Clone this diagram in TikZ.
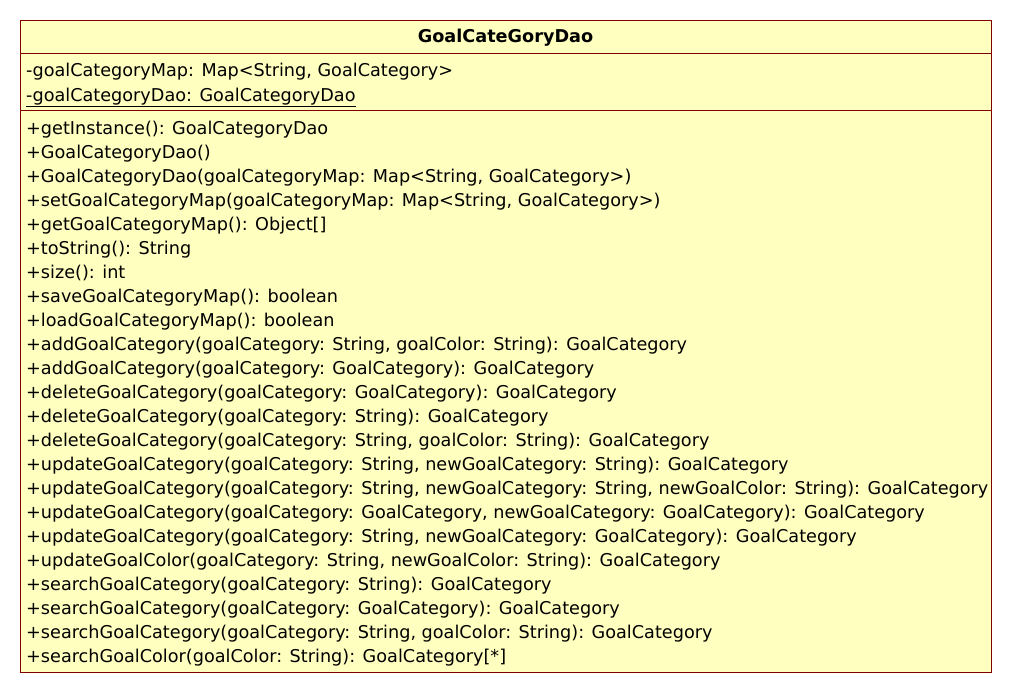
\documentclass[tikz,border=0pt]{standalone}
\usepackage{fontspec}
\setmainfont{DejaVu Sans}
\definecolor{classfill}{RGB}{255,255,192}
\definecolor{classline}{RGB}{128,0,0}
\tikzset{
    member/.style={anchor=base west, inner sep=0pt, font=\fontsize{17.65}{20}\selectfont},
    classname/.style={anchor=base, inner sep=0pt, font=\fontsize{17.65}{20}\selectfont\bfseries}
}
\begin{document}
\begin{tikzpicture}[x=1pt,y=-1pt]
        \useasboundingbox (0,0) rectangle (1012,693);
        \draw[classline, fill=classfill] (20,20) rectangle (991,672);
        \draw[classline] (20,53) -- (991,53);
        \draw[classline] (20,110) -- (991,110);

        \node[classname] (title) at (505.5,43) {GoalCateGoryDao};

        \node[member] (a1) at (26,77) {-goalCategoryMap: Map<String, GoalCategory>};
        \node[member] (a2) at (26,101) {\underline{-goalCategoryDao: GoalCategoryDao}};

        \node[member] (m1) at (26,134) {+getInstance(): GoalCategoryDao};
        \node[member] (m2) at (26,158) {+GoalCategoryDao()};
        \node[member] (m3) at (26,182) {+GoalCategoryDao(goalCategoryMap: Map<String, GoalCategory>)};
        \node[member] (m4) at (26,206) {+setGoalCategoryMap(goalCategoryMap: Map<String, GoalCategory>)};
        \node[member] (m5) at (26,230) {+getGoalCategoryMap(): Object[]};
        \node[member] (m6) at (26,254) {+toString(): String};
        \node[member] (m7) at (26,278) {+size(): int};
        \node[member] (m8) at (26,302) {+saveGoalCategoryMap(): boolean};
        \node[member] (m9) at (26,326) {+loadGoalCategoryMap(): boolean};
        \node[member] (m10) at (26,350) {+addGoalCategory(goalCategory: String, goalColor: String): GoalCategory};
        \node[member] (m11) at (26,374) {+addGoalCategory(goalCategory: GoalCategory): GoalCategory};
        \node[member] (m12) at (26,398) {+deleteGoalCategory(goalCategory: GoalCategory): GoalCategory};
        \node[member] (m13) at (26,422) {+deleteGoalCategory(goalCategory: String): GoalCategory};
        \node[member] (m14) at (26,446) {+deleteGoalCategory(goalCategory: String, goalColor: String): GoalCategory};
        \node[member] (m15) at (26,470) {+updateGoalCategory(goalCategory: String, newGoalCategory: String): GoalCategory};
        \node[member] (m16) at (26,494) {+updateGoalCategory(goalCategory: String, newGoalCategory: String, newGoalColor: String): GoalCategory};
        \node[member] (m17) at (26,518) {+updateGoalCategory(goalCategory: GoalCategory, newGoalCategory: GoalCategory): GoalCategory};
        \node[member] (m18) at (26,542) {+updateGoalCategory(goalCategory: String, newGoalCategory: GoalCategory): GoalCategory};
        \node[member] (m19) at (26,566) {+updateGoalColor(goalCategory: String, newGoalColor: String): GoalCategory};
        \node[member] (m20) at (26,590) {+searchGoalCategory(goalCategory: String): GoalCategory};
        \node[member] (m21) at (26,614) {+searchGoalCategory(goalCategory: GoalCategory): GoalCategory};
        \node[member] (m22) at (26,638) {+searchGoalCategory(goalCategory: String, goalColor: String): GoalCategory};
        \node[member] (m23) at (26,662) {+searchGoalColor(goalColor: String): GoalCategory[*]};
    \end{tikzpicture}
\end{document}
